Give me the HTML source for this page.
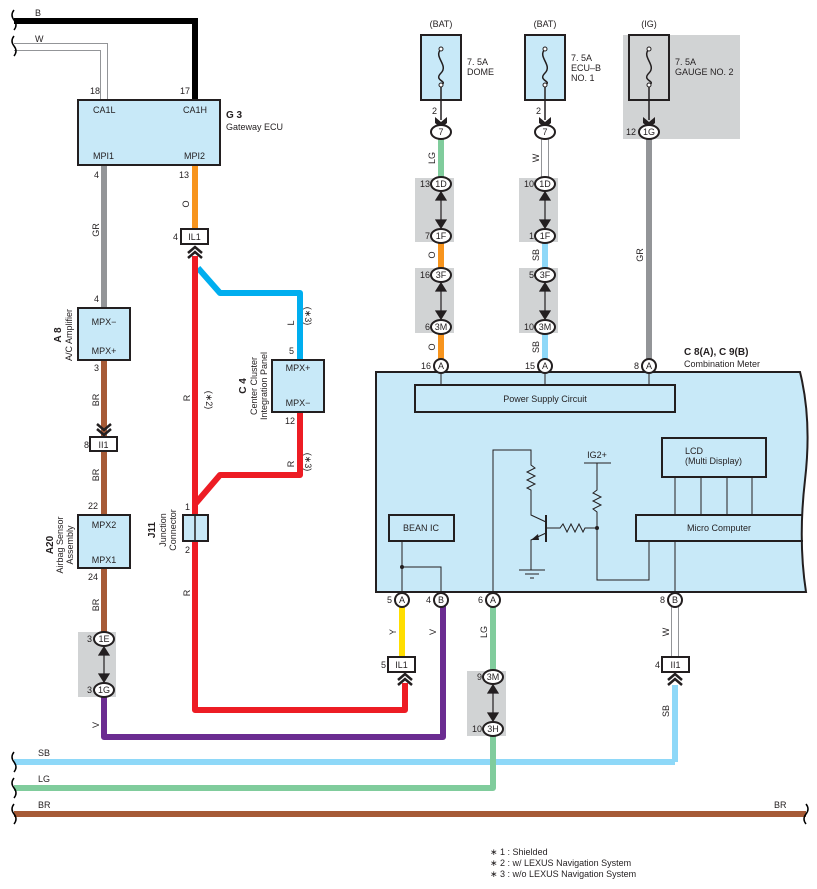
<!DOCTYPE html>
<html><head><meta charset="utf-8"><style>
html,body{margin:0;padding:0;background:#fff}
svg{display:block}
text{font-family:"Liberation Sans",sans-serif;font-size:9px;fill:#231f20}
.c{text-anchor:middle}
.e{text-anchor:end}
.b{font-weight:bold}
</style></head><body>
<svg width="817" height="889" viewBox="0 0 817 889" xmlns="http://www.w3.org/2000/svg">
<rect x="623" y="35" width="117" height="104" fill="#d1d3d4"/>
<rect x="415" y="178" width="39" height="64" fill="#d1d3d4"/>
<rect x="415" y="268" width="39" height="65" fill="#d1d3d4"/>
<rect x="519" y="178" width="39" height="64" fill="#d1d3d4"/>
<rect x="519" y="268" width="39" height="65" fill="#d1d3d4"/>
<rect x="78" y="632" width="38" height="65" fill="#d1d3d4"/>
<rect x="467" y="671" width="39" height="65" fill="#d1d3d4"/>

<polyline points="14,21 195,21 195,100" fill="none" stroke="#000" stroke-width="6"/>
<polyline points="14,47 104,47 104,100" fill="none" stroke="#939598" stroke-width="8"/>
<polyline points="14,47 104,47 104,100" fill="none" stroke="#fff" stroke-width="6"/>
<line x1="104" y1="165" x2="104" y2="308" stroke="#939598" stroke-width="6"/>
<line x1="195" y1="165" x2="195" y2="230" stroke="#f7941d" stroke-width="6"/>
<polyline points="198,268 220,293 300,293 300,360" fill="none" stroke="#00aeef" stroke-width="6" stroke-linejoin="round"/>
<polyline points="195,256 195,710 405,710 405,683" fill="none" stroke="#ed1c24" stroke-width="6" stroke-linejoin="round"/>
<polyline points="300,412 300,475 220,475 196,503" fill="none" stroke="#ed1c24" stroke-width="6" stroke-linejoin="round"/>
<line x1="104" y1="360" x2="104" y2="632" stroke="#a65a36" stroke-width="6"/>
<polyline points="104,697 104,737 443,737 443,600" fill="none" stroke="#6b2c91" stroke-width="6" stroke-linejoin="round"/>
<line x1="14" y1="762" x2="675" y2="762" stroke="#8ed8f8" stroke-width="6"/>
<polyline points="675,685 675,762" fill="none" stroke="#8ed8f8" stroke-width="6"/>
<polyline points="14,788 493,788 493,736" fill="none" stroke="#80cc9c" stroke-width="6" stroke-linejoin="round"/>
<line x1="14" y1="814" x2="806" y2="814" stroke="#a65a36" stroke-width="6"/>
<line x1="402" y1="600" x2="402" y2="657" stroke="#ffde00" stroke-width="6"/>
<line x1="493" y1="600" x2="493" y2="671" stroke="#80cc9c" stroke-width="6"/>
<line x1="675" y1="600" x2="675" y2="657" stroke="#939598" stroke-width="8"/>
<line x1="675" y1="600" x2="675" y2="657" stroke="#fff" stroke-width="6"/>

<line x1="441" y1="139" x2="441" y2="178" stroke="#80cc9c" stroke-width="6"/>
<line x1="441" y1="242" x2="441" y2="268" stroke="#f7941d" stroke-width="6"/>
<line x1="441" y1="333" x2="441" y2="360" stroke="#f7941d" stroke-width="6"/>
<line x1="545" y1="139" x2="545" y2="178" stroke="#939598" stroke-width="8"/>
<line x1="545" y1="139" x2="545" y2="178" stroke="#fff" stroke-width="6"/>
<line x1="545" y1="242" x2="545" y2="268" stroke="#8ed8f8" stroke-width="6"/>
<line x1="545" y1="333" x2="545" y2="360" stroke="#8ed8f8" stroke-width="6"/>
<line x1="649" y1="139" x2="649" y2="360" stroke="#939598" stroke-width="6"/>

<g fill="none" stroke="#000" stroke-width="1.5">
<path d="M14,10 q-4,5 0,10 q4,5 0,10 M14,36 q-4,5 0,10 q4,5 0,10"/>
<path d="M14,752 q-4,5 0,10 q4,5 0,10 M14,778 q-4,5 0,10 q4,5 0,10 M14,804 q-4,5 0,10 q4,5 0,10"/>
<path d="M806,804 q4,5 0,10 q-4,5 0,10"/>
</g>

<g fill="#c8e9f8" stroke="#231f20" stroke-width="2">
<rect x="78" y="100" width="142" height="65"/>
<rect x="78" y="308" width="52" height="52"/>
<rect x="78" y="515" width="52" height="53"/>
<rect x="272" y="360" width="52" height="52"/>
<rect x="183" y="515" width="25" height="26"/>
<rect x="421" y="35" width="40" height="65"/>
<rect x="525" y="35" width="40" height="65"/>
</g>
<rect x="629" y="35" width="40" height="65" fill="#d1d3d4" stroke="#231f20" stroke-width="2"/>
<line x1="195" y1="515" x2="195" y2="541" stroke="#231f20" stroke-width="1.5"/>

<path d="M376,372 L800,372 Q812,420 805,480 Q798,540 806,592 L376,592 Z" fill="#c8e9f8" stroke="#231f20" stroke-width="2"/>
<g fill="none" stroke="#231f20" stroke-width="2">
<rect x="415" y="385" width="260" height="27"/>
<rect x="662" y="438" width="104" height="39"/>
<path d="M803,515 L636,515 L636,541 L803,541"/>
<rect x="389" y="515" width="65" height="26"/>
</g>
<g fill="none" stroke="#231f20" stroke-width="1">
<line x1="441" y1="366" x2="441" y2="385"/><line x1="545" y1="366" x2="545" y2="385"/><line x1="649" y1="366" x2="649" y2="385"/>
<line x1="675" y1="477" x2="675" y2="515"/><line x1="701" y1="477" x2="701" y2="515"/><line x1="727" y1="477" x2="727" y2="515"/><line x1="752" y1="477" x2="752" y2="515"/>
<line x1="675" y1="541" x2="675" y2="600"/>
<polyline points="402,541 402,600"/><polyline points="402,567 441,567 441,600"/>
<polyline points="493,600 493,450 531,450 531,465 535,468 527,472 535,476 527,480 535,484 527,488 531,490 531,515 546,522"/>
<line x1="546" y1="515" x2="546" y2="542" stroke-width="2"/>
<polyline points="546,533 531,540 531,570"/>
<line x1="519" y1="570" x2="545" y2="570"/><line x1="525" y1="574" x2="539" y2="574"/><line x1="530" y1="578" x2="534" y2="578"/>
<polyline points="546,528 560,528 563,524 567,532 571,524 575,532 579,524 583,532 585,528 597,528"/>
<line x1="584" y1="463" x2="611" y2="463"/>
<polyline points="597,463 597,490 593,493 601,497 593,501 601,505 593,509 597,512 597,528 597,580 649,580 649,541"/>
</g>
<circle cx="402" cy="567" r="2" fill="#231f20"/><circle cx="597" cy="528" r="2" fill="#231f20"/>
<polygon points="531,540 538,534 539,540" fill="#231f20"/>

<g fill="none" stroke="#231f20" stroke-width="1.5">
<path d="M441,49 c-8,8 8,16 0,24 c-8,8 8,8 0,12"/><path d="M545,49 c-8,8 8,16 0,24 c-8,8 8,8 0,12"/><path d="M649,49 c-8,8 8,16 0,24 c-8,8 8,8 0,12"/>
<line x1="441" y1="85" x2="441" y2="120"/><line x1="545" y1="85" x2="545" y2="120"/><line x1="649" y1="85" x2="649" y2="120"/>
</g>
<g fill="#fff" stroke="#231f20" stroke-width="1"><circle cx="441" cy="49" r="2"/><circle cx="441" cy="85" r="2"/><circle cx="545" cy="49" r="2"/><circle cx="545" cy="85" r="2"/><circle cx="649" cy="49" r="2"/><circle cx="649" cy="85" r="2"/></g>

<g fill="none" stroke="#231f20" stroke-width="2.5">
<path d="M188,253 l7,-6 l7,6 M188,258 l7,-6 l7,6"/>
<path d="M398,680 l7,-6 l7,6 M398,685 l7,-6 l7,6"/>
<path d="M668,680 l7,-6 l7,6 M668,685 l7,-6 l7,6"/>
<path d="M97,424 l7,6 l7,-6 M97,429 l7,6 l7,-6"/>
</g>
<g fill="#231f20">
<path d="M435,117 l6,5 l6,-5 l0,6 l-6,5 l-6,-5z"/><path d="M539,117 l6,5 l6,-5 l0,6 l-6,5 l-6,-5z"/><path d="M643,117 l6,5 l6,-5 l0,6 l-6,5 l-6,-5z"/>
</g>
<g stroke="#231f20" stroke-width="1.2" fill="#231f20">
<line x1="441" y1="192" x2="441" y2="228"/><path d="M436,200 l5,-8 l5,8 z M436,220 l5,8 l5,-8z"/>
<line x1="441" y1="283" x2="441" y2="319"/><path d="M436,291 l5,-8 l5,8 z M436,311 l5,8 l5,-8z"/>
<line x1="545" y1="192" x2="545" y2="228"/><path d="M540,200 l5,-8 l5,8 z M540,220 l5,8 l5,-8z"/>
<line x1="545" y1="283" x2="545" y2="319"/><path d="M540,291 l5,-8 l5,8 z M540,311 l5,8 l5,-8z"/>
<line x1="104" y1="647" x2="104" y2="682"/><path d="M99,655 l5,-8 l5,8 z M99,674 l5,8 l5,-8z"/>
<line x1="493" y1="685" x2="493" y2="721"/><path d="M488,693 l5,-8 l5,8 z M488,713 l5,8 l5,-8z"/>
</g>

<g fill="#fff" stroke="#231f20" stroke-width="2">
<rect x="181" y="229" width="27" height="15"/>
<rect x="90" y="437" width="27" height="14"/>
<rect x="388" y="657" width="27" height="15"/>
<rect x="662" y="657" width="27" height="15"/>
<ellipse cx="441" cy="132" rx="10" ry="7"/><ellipse cx="545" cy="132" rx="10" ry="7"/><ellipse cx="649" cy="132" rx="10" ry="7"/>
<ellipse cx="441" cy="184" rx="10" ry="7"/><ellipse cx="441" cy="236" rx="10" ry="7"/><ellipse cx="441" cy="275" rx="10" ry="7"/><ellipse cx="441" cy="327" rx="10" ry="7"/>
<ellipse cx="545" cy="184" rx="10" ry="7"/><ellipse cx="545" cy="236" rx="10" ry="7"/><ellipse cx="545" cy="275" rx="10" ry="7"/><ellipse cx="545" cy="327" rx="10" ry="7"/>
<ellipse cx="104" cy="639" rx="10" ry="7"/><ellipse cx="104" cy="690" rx="10" ry="7"/>
<ellipse cx="493" cy="677" rx="10" ry="7"/><ellipse cx="493" cy="729" rx="10" ry="7"/>
<circle cx="441" cy="366" r="7"/><circle cx="545" cy="366" r="7"/><circle cx="649" cy="366" r="7"/>
<circle cx="402" cy="600" r="7"/><circle cx="441" cy="600" r="7"/><circle cx="493" cy="600" r="7"/><circle cx="675" cy="600" r="7"/>
</g>
<g>
<text x="194.5" y="240" class="c">IL1</text><text x="103.5" y="448" class="c">II1</text><text x="401.5" y="668" class="c">IL1</text><text x="675.5" y="668" class="c">II1</text>
<text x="441" y="135" class="c">7</text><text x="545" y="135" class="c">7</text><text x="649" y="135" class="c">1G</text>
<text x="441" y="187" class="c">1D</text><text x="441" y="239" class="c">1F</text><text x="441" y="278" class="c">3F</text><text x="441" y="330" class="c">3M</text>
<text x="545" y="187" class="c">1D</text><text x="545" y="239" class="c">1F</text><text x="545" y="278" class="c">3F</text><text x="545" y="330" class="c">3M</text>
<text x="104" y="642" class="c">1E</text><text x="104" y="693" class="c">1G</text>
<text x="493" y="680" class="c">3M</text><text x="493" y="732" class="c">3H</text>
<text x="441" y="369" class="c">A</text><text x="545" y="369" class="c">A</text><text x="649" y="369" class="c">A</text>
<text x="402" y="603" class="c">A</text><text x="441" y="603" class="c">B</text><text x="493" y="603" class="c">A</text><text x="675" y="603" class="c">B</text>
</g>

<text x="35" y="16">B</text><text x="35" y="42">W</text>
<text x="38" y="756">SB</text><text x="38" y="782">LG</text><text x="38" y="808">BR</text><text x="774" y="808">BR</text>
<text x="90" y="94">18</text><text x="180" y="94">17</text>
<text x="93" y="113">CA1L</text><text x="183" y="113">CA1H</text><text x="93" y="159">MPI1</text><text x="184" y="159">MPI2</text>
<text x="226" y="118" class="b" style="font-size:10px">G 3</text><text x="226" y="130">Gateway ECU</text>
<text x="94" y="178">4</text><text x="179" y="178">13</text><text x="173" y="240">4</text>
<text x="94" y="302">4</text><text x="94" y="371">3</text><text x="84" y="448">8</text><text x="88" y="509">22</text><text x="88" y="580">24</text>
<text x="92" y="642" class="e">3</text><text x="92" y="693" class="e">3</text>
<text x="104" y="325" class="c">MPX−</text><text x="104" y="354" class="c">MPX+</text>
<text x="104" y="528" class="c">MPX2</text><text x="104" y="563" class="c">MPX1</text>
<text x="298" y="371" class="c">MPX+</text><text x="298" y="406" class="c">MPX−</text>
<text x="289" y="354">5</text><text x="285" y="424">12</text>
<text x="185" y="510">1</text><text x="185" y="553">2</text>
<g>
<text transform="translate(99,230) rotate(-90)" class="c">GR</text>
<text transform="translate(189,204) rotate(-90)" class="c">O</text>
<text transform="translate(99,400) rotate(-90)" class="c">BR</text>
<text transform="translate(99,475) rotate(-90)" class="c">BR</text>
<text transform="translate(99,605) rotate(-90)" class="c">BR</text>
<text transform="translate(99,725) rotate(-90)" class="c">V</text>
<text transform="translate(190,398) rotate(-90)" class="c">R</text>
<text transform="translate(206,400) rotate(90)" class="c">(∗2)</text>
<text transform="translate(190,593) rotate(-90)" class="c">R</text>
<text transform="translate(294,323) rotate(-90)" class="c">L</text>
<text transform="translate(305,316) rotate(90)" class="c">(∗3)</text>
<text transform="translate(294,464) rotate(-90)" class="c">R</text>
<text transform="translate(305,462) rotate(90)" class="c">(∗3)</text>
<text transform="translate(435,158) rotate(-90)" class="c">LG</text>
<text transform="translate(435,255) rotate(-90)" class="c">O</text>
<text transform="translate(435,347) rotate(-90)" class="c">O</text>
<text transform="translate(539,158) rotate(-90)" class="c">W</text>
<text transform="translate(539,255) rotate(-90)" class="c">SB</text>
<text transform="translate(539,347) rotate(-90)" class="c">SB</text>
<text transform="translate(643,255) rotate(-90)" class="c">GR</text>
<text transform="translate(396,632) rotate(-90)" class="c">Y</text>
<text transform="translate(436,632) rotate(-90)" class="c">V</text>
<text transform="translate(487,632) rotate(-90)" class="c">LG</text>
<text transform="translate(669,632) rotate(-90)" class="c">W</text>
<text transform="translate(669,711) rotate(-90)" class="c">SB</text>
</g>
<g>
<text transform="translate(61,335) rotate(-90)" class="c b" style="font-size:10px">A 8</text>
<text transform="translate(72,335) rotate(-90)" class="c">A/C Amplifier</text>
<text transform="translate(53,545) rotate(-90)" class="c b" style="font-size:10px">A20</text>
<text transform="translate(63,545) rotate(-90)" class="c">Airbag Sensor</text>
<text transform="translate(73,545) rotate(-90)" class="c">Assembly</text>
<text transform="translate(246,386) rotate(-90)" class="c b" style="font-size:10px">C 4</text>
<text transform="translate(257,386) rotate(-90)" class="c">Center Cluster</text>
<text transform="translate(267,386) rotate(-90)" class="c">Integration Panel</text>
<text transform="translate(155,530) rotate(-90)" class="c b" style="font-size:10px">J11</text>
<text transform="translate(166,530) rotate(-90)" class="c">Junction</text>
<text transform="translate(176,530) rotate(-90)" class="c">Connector</text>
</g>
<text x="441" y="27" class="c">(BAT)</text><text x="545" y="27" class="c">(BAT)</text><text x="649" y="27" class="c">(IG)</text>
<text x="467" y="65">7. 5A</text><text x="467" y="75">DOME</text>
<text x="571" y="61">7. 5A</text><text x="571" y="71">ECU–B</text><text x="571" y="81">NO. 1</text>
<text x="675" y="65">7. 5A</text><text x="675" y="75">GAUGE NO. 2</text>
<text x="432" y="114">2</text><text x="536" y="114">2</text>
<text x="636" y="135" class="e">12</text>
<text x="430" y="187" class="e">13</text><text x="430" y="239" class="e">7</text><text x="430" y="278" class="e">16</text><text x="430" y="330" class="e">6</text>
<text x="534" y="187" class="e">10</text><text x="534" y="239" class="e">1</text><text x="534" y="278" class="e">5</text><text x="534" y="330" class="e">10</text>
<text x="431" y="369" class="e">16</text><text x="535" y="369" class="e">15</text><text x="639" y="369" class="e">8</text>
<text x="684" y="355" class="b" style="font-size:10px">C 8(A), C 9(B)</text><text x="684" y="367">Combination Meter</text>
<text x="545" y="402" class="c">Power Supply Circuit</text>
<text x="685" y="454">LCD</text><text x="685" y="464">(Multi Display)</text>
<text x="719" y="531" class="c">Micro Computer</text>
<text x="421" y="531" class="c">BEAN IC</text>
<text x="597" y="458" class="c">IG2+</text>
<text x="392" y="603" class="e">5</text><text x="431" y="603" class="e">4</text><text x="483" y="603" class="e">6</text><text x="665" y="603" class="e">8</text>
<text x="386" y="668" class="e">5</text><text x="660" y="668" class="e">4</text>
<text x="482" y="680" class="e">9</text><text x="482" y="732" class="e">10</text>
<text x="490" y="855">∗ 1 : Shielded</text>
<text x="490" y="866">∗ 2 : w/ LEXUS Navigation System</text>
<text x="490" y="877">∗ 3 : w/o LEXUS Navigation System</text>
</svg>
</body></html>
